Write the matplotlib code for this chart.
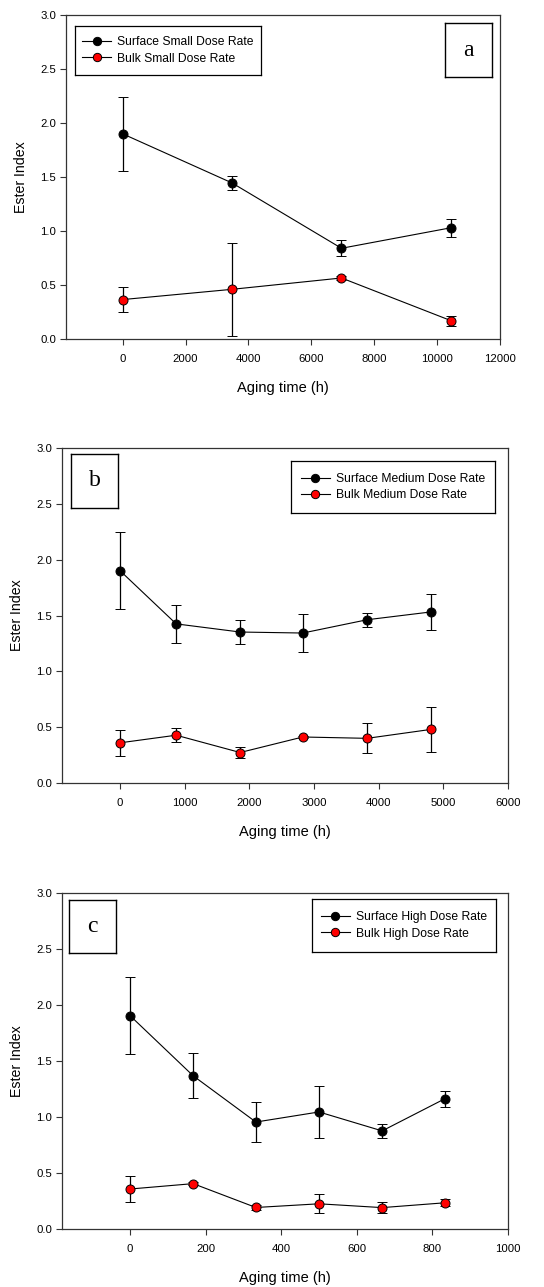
import numpy as np
import matplotlib.pyplot as plt
from matplotlib.lines import Line2D

plt.rcParams['font.family'] = ['Liberation Sans', 'DejaVu Sans']

# panel a - small dose rate
t_a = [0, 3480, 6960, 10440]
surf_a = [1.90, 1.445, 0.84, 1.03]
surf_a_err = [0.345, 0.068, 0.075, 0.085]
bulk_a = [0.365, 0.46, 0.565, 0.17]
bulk_a_err = [0.115, 0.43, 0.015, 0.045]

# panel b - medium dose rate
t_b = [0, 866, 1856, 2825, 3820, 4809]
surf_b = [1.90, 1.425, 1.352, 1.343, 1.462, 1.532]
surf_b_err = [0.345, 0.17, 0.11, 0.17, 0.063, 0.16]
bulk_b = [0.36, 0.428, 0.273, 0.412, 0.40, 0.48]
bulk_b_err = [0.117, 0.062, 0.05, 0.012, 0.135, 0.205]

# panel c - high dose rate
t_c = [0, 167, 333, 500, 667, 833]
surf_c = [1.905, 1.368, 0.955, 1.045, 0.876, 1.163]
surf_c_err = [0.345, 0.2, 0.18, 0.23, 0.062, 0.07]
bulk_c = [0.357, 0.405, 0.192, 0.225, 0.191, 0.234]
bulk_c_err = [0.117, 0.015, 0.02, 0.085, 0.05, 0.03]

W, H = 544, 1287
fig = plt.figure(figsize=(W / 100, H / 100), dpi=100)


def px_axes(left, top, right, bottom):
    return fig.add_axes([left / W, 1 - bottom / H, (right - left) / W, (bottom - top) / H])


def panel(ax, t, s, se, b, be, names, xlim, xticks, letter, leg_box, let_box):
    for y, e, c in [(s, se, 'black'), (b, be, 'red')]:
        ax.errorbar(t, y, yerr=e, color='black', lw=0.8, elinewidth=0.9,
                    capsize=3.5, capthick=0.9, marker='o', markersize=6.5,
                    markerfacecolor=c, markeredgecolor='black', markeredgewidth=0.7,
                    zorder=3)
    ax.set_xlim(*xlim)
    ax.set_ylim(0, 3.0)
    ax.set_xticks(xticks)
    ax.set_yticks(np.arange(0, 3.01, 0.5))
    ax.set_yticklabels(['%.1f' % v for v in np.arange(0, 3.01, 0.5)])
    ax.tick_params(direction='out', length=4, width=0.8, labelsize=8.2,
                   color='#333333', pad=3)
    ax.tick_params(axis='x', pad=7)
    for sp in ax.spines.values():
        sp.set_color('#333333')
        sp.set_linewidth(0.9)
    ax.set_xlabel('Aging time (h)', fontsize=10.5, labelpad=12)
    ax.set_ylabel('Ester Index', fontsize=10.2, labelpad=9)

    handles = [Line2D([], [], color='black', lw=0.8, marker='o', markersize=6,
                      markerfacecolor=c, markeredgecolor='black', markeredgewidth=0.7)
               for c in ['black', 'red']]
    l0, t0, r0, b0 = leg_box
    lax = fig.add_axes([l0 / W, 1 - b0 / H, (r0 - l0) / W, (b0 - t0) / H])
    lax.set_xticks([])
    lax.set_yticks([])
    for sp in lax.spines.values():
        sp.set_linewidth(0.9)
    lax.patch.set_alpha(0)
    lax.legend(handles, names, loc='center', frameon=False, fontsize=8.7,
               handlelength=2.4, handletextpad=0.5, labelspacing=0.35,
               borderaxespad=0)

    l1, t1, r1, b1 = let_box
    kax = fig.add_axes([l1 / W, 1 - b1 / H, (r1 - l1) / W, (b1 - t1) / H])
    kax.set_xticks([])
    kax.set_yticks([])
    for sp in kax.spines.values():
        sp.set_linewidth(1.0)
    kax.patch.set_alpha(0)
    kax.text(0.5, 0.5, letter, ha='center', va='center', fontsize=17,
             family=['Liberation Serif', 'DejaVu Serif'], transform=kax.transAxes)


ax_a = px_axes(66, 15, 500, 339)
panel(ax_a, t_a, surf_a, surf_a_err, bulk_a, bulk_a_err,
      ['Surface Small Dose Rate', 'Bulk Small Dose Rate'],
      (-1800, 12000), [0, 2000, 4000, 6000, 8000, 10000, 12000], 'a',
      (75, 26, 261, 75), (445, 23, 492, 77))

ax_b = px_axes(62, 448, 508, 783)
panel(ax_b, t_b, surf_b, surf_b_err, bulk_b, bulk_b_err,
      ['Surface Medium Dose Rate', 'Bulk Medium Dose Rate'],
      (-900, 6000), [0, 1000, 2000, 3000, 4000, 5000, 6000], 'b',
      (291, 461, 495, 513), (71, 454, 118, 508))

ax_c = px_axes(62, 893, 508, 1229)
panel(ax_c, t_c, surf_c, surf_c_err, bulk_c, bulk_c_err,
      ['Surface High Dose Rate', 'Bulk High Dose Rate'],
      (-180, 1000), [0, 200, 400, 600, 800, 1000], 'c',
      (312, 899, 496, 952), (69, 900, 116, 953))

plt.savefig('out.png', dpi=100)
